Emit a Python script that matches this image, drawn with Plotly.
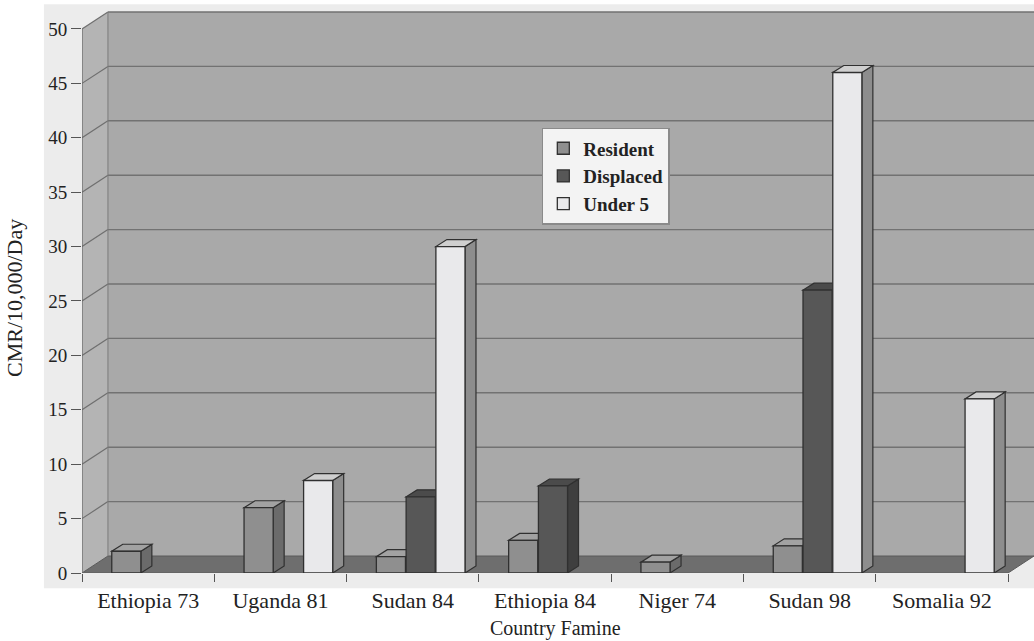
import plotly.graph_objects as go

# ---------------- data ----------------
categories = ["Ethiopia 73", "Uganda 81", "Sudan 84", "Ethiopia 84",
              "Niger 74", "Sudan 98", "Somalia 92"]
resident = [2, 6, 1.5, 3, 1, 2.5, None]
displaced = [None, None, 7, 8, None, 26, None]
under5 = [None, 8.5, 30, None, None, 46, 16]
series_names = ["Resident", "Displaced", "Under 5"]
y_ticks = [0, 5, 10, 15, 20, 25, 30, 35, 40, 45, 50]

# ---------------- styles ----------------
FONT = "Liberation Serif, Times New Roman, serif"
front_cols = ["#8f8f8f", "#575757", "#e9e9eb"]
side_cols = ["#6b6b6b", "#3f3f3f", "#8d8d8d"]
top_cols = ["#a2a2a2", "#4b4b4b", "#cfcfcf"]
EDGE = "#303030"

N = len(categories)
YMAX = 50
DX, DY = 0.196, 1.56          # wall depth (data units)
BW = 0.22                     # bar width
BDX, BDY = 0.083, 0.64        # bar depth
GROUP_SHIFT = 0.56
STEP = 0.225

fig = go.Figure()
shapes = []

def poly(pts, fill, line_col=None, lw=0):
    p = "M " + " L ".join(f"{x},{y}" for x, y in pts) + " Z"
    return dict(type="path", path=p, xref="x", yref="y", layer="below",
                fillcolor=fill, line=dict(color=line_col or fill, width=lw))

# light panel behind the whole chart
shapes.append(dict(type="rect", xref="paper", yref="paper", layer="below",
                   x0=-0.04, x1=1.0, y0=-0.027, y1=1.012,
                   fillcolor="#ececec", line=dict(width=0)))
# walls and floor
shapes.append(poly([(DX, DY), (N + DX, DY), (N + DX, YMAX + DY), (DX, YMAX + DY)], "#a9a9a9"))
shapes.append(poly([(0, 0), (DX, DY), (DX, YMAX + DY), (0, YMAX)], "#b4b4b4"))
shapes.append(poly([(0, 0), (N, 0), (N + DX, DY), (DX, DY)], "#6e6e6e", "#5a5a5a", 1))
for v in y_ticks[1:]:
    shapes.append(dict(type="line", xref="x", yref="y", layer="below",
                       x0=0, y0=v, x1=DX, y1=v + DY, line=dict(color="#6f6f6f", width=1.2)))
    shapes.append(dict(type="line", xref="x", yref="y", layer="below",
                       x0=DX, y0=v + DY, x1=N + DX, y1=v + DY, line=dict(color="#727272", width=1.4)))
shapes.append(dict(type="line", xref="x", yref="y", layer="below",
                   x0=DX, y0=DY, x1=DX, y1=YMAX + DY, line=dict(color="#7a7a7a", width=1)))
shapes.append(dict(type="line", xref="x", yref="y", layer="below",
                   x0=0, y0=0, x1=0, y1=YMAX, line=dict(color="#666666", width=1.2)))
shapes.append(dict(type="line", xref="x", yref="y", layer="below",
                   x0=0, y0=0, x1=N, y1=0, line=dict(color="#666666", width=1.2)))

# bars
for k, (name, vals) in enumerate(zip(series_names, [resident, displaced, under5])):
    xs = [i + GROUP_SHIFT + (k - 1) * STEP for i in range(N)]
    fig.add_trace(go.Bar(
        x=xs, y=vals, width=BW, name=name,
        marker=dict(color=front_cols[k], line=dict(color=EDGE, width=1.3)),
        hoverinfo="skip"))
    for x, v in zip(xs, vals):
        if v is None:
            continue
        x0, x1 = x - BW / 2, x + BW / 2
        shapes.append(poly([(x1, 0), (x1 + BDX, BDY), (x1 + BDX, v + BDY), (x1, v)],
                           side_cols[k], EDGE, 1.2))
        shapes.append(poly([(x0, v), (x1, v), (x1 + BDX, v + BDY), (x0 + BDX, v + BDY)],
                           top_cols[k], EDGE, 1.2))

fig.update_layout(
    width=1034, height=641,
    margin=dict(l=82, r=0, t=11, b=68, autoexpand=False),
    paper_bgcolor="white",
    plot_bgcolor="#ececec",
    barmode="overlay",
    shapes=shapes,
    font=dict(family=FONT, color="#222222", size=16),
    xaxis=dict(range=[0, N + DX], tickvals=[i + 0.5 for i in range(N)], ticktext=categories,
               ticks="", showgrid=False, zeroline=False, showline=False,
               ticklabelstandoff=12,
               tickfont=dict(size=22, family=FONT, color="#222"),
               minor=dict(tickvals=list(range(N + 1)), ticks="outside", ticklen=8,
                          tickcolor="#555", tickwidth=1.2, showgrid=False)),
    yaxis=dict(range=[0, YMAX + 1.65], tickvals=y_ticks, ticks="outside", ticklen=10,
               tickcolor="#555", tickwidth=1.2, showgrid=False, zeroline=False, showline=False,
               tickfont=dict(size=19, family=FONT, color="#222")),
    legend=dict(x=0.483, y=0.792, xanchor="left", yanchor="top",
                bgcolor="#f3f3f3", bordercolor="#8a8a8a", borderwidth=1.5,
                font=dict(family=FONT, size=19, color="#222", weight="bold"),
                itemwidth=30, tracegroupgap=0),
    showlegend=True,
    annotations=[
        dict(text="CMR/10,000/Day", xref="paper", yref="paper", x=-0.071, y=0.49,
             textangle=-90, showarrow=False, font=dict(size=22, family=FONT, color="#222"),
             xanchor="center", yanchor="middle"),
        dict(text="Country Famine", xref="paper", yref="paper", x=0.497, y=-0.098,
             showarrow=False, font=dict(size=20, family=FONT, color="#222"),
             xanchor="center", yanchor="middle"),
    ],
)

fig.write_html("out.html",
               config={"displayModeBar": False},
               post_script="document.body.style.margin='0';document.body.style.overflow='hidden';")
